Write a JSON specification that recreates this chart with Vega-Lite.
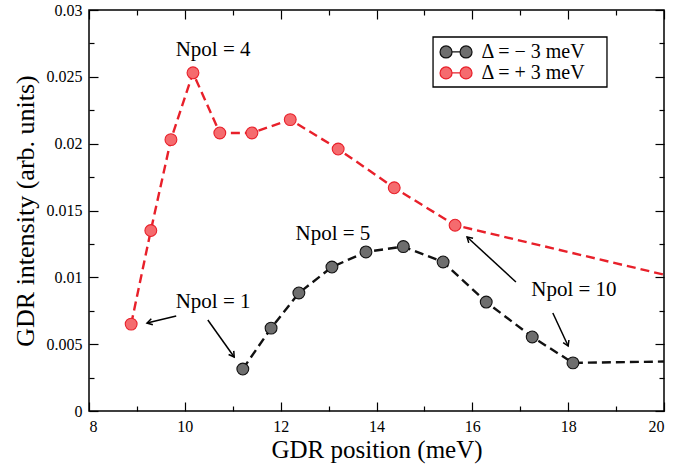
{
  "$schema": "https://vega.github.io/schema/vega-lite/v6.json",
  "width": 575,
  "height": 401,
  "autosize": "none",
  "padding": {"left": 89, "top": 10, "right": 29, "bottom": 53},
  "background": "#ffffff",
  "datasets": {
    "curves": [
      {"series": "Δ = − 3 meV", "x": 11.21, "y": 0.00314},
      {"series": "Δ = − 3 meV", "x": 11.80, "y": 0.0062},
      {"series": "Δ = − 3 meV", "x": 12.38, "y": 0.00883},
      {"series": "Δ = − 3 meV", "x": 13.07, "y": 0.01077},
      {"series": "Δ = − 3 meV", "x": 13.78, "y": 0.0119},
      {"series": "Δ = − 3 meV", "x": 14.56, "y": 0.0123},
      {"series": "Δ = − 3 meV", "x": 15.39, "y": 0.01115},
      {"series": "Δ = − 3 meV", "x": 16.29, "y": 0.00815},
      {"series": "Δ = − 3 meV", "x": 17.25, "y": 0.00554},
      {"series": "Δ = − 3 meV", "x": 18.10, "y": 0.0036},
      {"series": "Δ = − 3 meV", "x": 20.0, "y": 0.0037},
      {"series": "Δ = + 3 meV", "x": 8.88, "y": 0.0065},
      {"series": "Δ = + 3 meV", "x": 9.29, "y": 0.0135},
      {"series": "Δ = + 3 meV", "x": 9.71, "y": 0.0203},
      {"series": "Δ = + 3 meV", "x": 10.17, "y": 0.0253},
      {"series": "Δ = + 3 meV", "x": 10.73, "y": 0.0208},
      {"series": "Δ = + 3 meV", "x": 11.40, "y": 0.0208},
      {"series": "Δ = + 3 meV", "x": 12.20, "y": 0.0218},
      {"series": "Δ = + 3 meV", "x": 13.20, "y": 0.0196},
      {"series": "Δ = + 3 meV", "x": 14.37, "y": 0.0167},
      {"series": "Δ = + 3 meV", "x": 15.64, "y": 0.0139},
      {"series": "Δ = + 3 meV", "x": 20.0, "y": 0.0102}
    ],
    "arrows": [
      {"x": 9.82, "y": 0.00711, "x2": 9.21, "y2": 0.00658, "angle": 166},
      {"x": 10.48, "y": 0.00681, "x2": 11.03, "y2": 0.00404, "angle": 55},
      {"x": 16.91, "y": 0.00965, "x2": 15.89, "y2": 0.01302, "angle": 223},
      {"x": 17.68, "y": 0.00733, "x2": 18.0, "y2": 0.00486, "angle": 66}
    ],
    "labels": [
      {"x": 10.59, "y": 0.027, "label": "Npol = 4"},
      {"x": 10.59, "y": 0.00815, "label": "Npol = 1"},
      {"x": 13.09, "y": 0.01324, "label": "Npol = 5"},
      {"x": 18.12, "y": 0.00905, "label": "Npol = 10"}
    ],
    "legendMinus": [{"series": "Δ = − 3 meV"}],
    "legendPlus": [{"series": "Δ = + 3 meV"}]
  },
  "layer": [
    {
      "data": {"name": "curves"},
      "mark": {"type": "line", "strokeDash": [9, 5], "strokeWidth": 2.4, "clip": true},
      "encoding": {
        "x": {"field": "x", "type": "quantitative", "scale": {"domain": [8, 20], "nice": false, "zero": false},
          "axis": {"orient": "bottom", "values": [8, 10, 12, 14, 16, 18, 20], "ticks": false, "labelPadding": 7, "title": "GDR position (meV)", "titleY": 46, "titleFontSize": 25, "titleBaseline": "alphabetic"}},
        "y": {"field": "y", "type": "quantitative", "scale": {"domain": [0, 0.03], "nice": false},
          "axis": {"orient": "left", "values": [0, 0.005, 0.01, 0.015, 0.02, 0.025, 0.03], "format": "~g", "ticks": false, "labelPadding": 7, "title": "GDR intensity (arb. units)", "titlePadding": 8}},
        "stroke": {"field": "series", "type": "nominal", "scale": {"domain": ["Δ = − 3 meV", "Δ = + 3 meV"], "range": ["#111111", "#e8202a"]}, "legend": null},
        "order": {"field": "x", "type": "quantitative"}
      }
    },
    {
      "data": {"name": "curves"},
      "transform": [{"filter": "datum.x < 20"}],
      "mark": {"type": "point", "filled": true, "size": 140, "strokeWidth": 1.1, "opacity": 1},
      "encoding": {
        "x": {"field": "x", "type": "quantitative",
          "axis": {"orient": "bottom", "values": [8, 10, 12, 14, 16, 18, 20], "labels": false, "tickSize": -9, "title": null}},
        "y": {"field": "y", "type": "quantitative",
          "axis": {"orient": "left", "values": [0, 0.005, 0.01, 0.015, 0.02, 0.025, 0.03], "labels": false, "tickSize": -9, "title": null}},
        "fill": {"field": "series", "type": "nominal", "scale": {"domain": ["Δ = − 3 meV", "Δ = + 3 meV"], "range": ["#6e6e6e", "#f56b6e"]}, "legend": null},
        "stroke": {"field": "series", "type": "nominal", "legend": null}
      }
    },
    {
      "data": {"name": "arrows"},
      "mark": {"type": "rule", "color": "#000000", "strokeWidth": 1.5},
      "encoding": {
        "x": {"field": "x", "type": "quantitative",
          "axis": {"orient": "bottom", "values": [9, 11, 13, 15, 17, 19], "labels": false, "tickSize": -5, "title": null}},
        "y": {"field": "y", "type": "quantitative",
          "axis": {"orient": "left", "values": [0.0025, 0.0075, 0.0125, 0.0175, 0.0225, 0.0275], "labels": false, "tickSize": -5, "title": null}},
        "x2": {"field": "x2"},
        "y2": {"field": "y2"}
      }
    },
    {
      "data": {"name": "arrows"},
      "mark": {"type": "point", "shape": "M-1,-0.6L0,0L-1,0.6", "filled": false, "size": 110, "stroke": "#000000", "strokeWidth": 1.5, "opacity": 1},
      "encoding": {
        "x": {"field": "x2", "type": "quantitative",
          "axis": {"orient": "top", "values": [8, 10, 12, 14, 16, 18, 20], "labels": false, "tickSize": -9, "title": null}},
        "y": {"field": "y2", "type": "quantitative",
          "axis": {"orient": "right", "values": [0, 0.005, 0.01, 0.015, 0.02, 0.025, 0.03], "labels": false, "tickSize": -9, "title": null}},
        "angle": {"field": "angle", "type": "quantitative", "scale": null}
      }
    },
    {
      "data": {"name": "labels"},
      "mark": {"type": "text", "font": "Liberation Serif", "fontSize": 21, "color": "#000000", "align": "center", "baseline": "middle"},
      "encoding": {
        "x": {"field": "x", "type": "quantitative",
          "axis": {"orient": "top", "values": [9, 11, 13, 15, 17, 19], "labels": false, "tickSize": -5, "title": null}},
        "y": {"field": "y", "type": "quantitative",
          "axis": {"orient": "right", "values": [0.0025, 0.0075, 0.0125, 0.0175, 0.0225, 0.0275], "labels": false, "tickSize": -5, "title": null}},
        "text": {"field": "label", "type": "nominal"}
      }
    },
    {
      "data": {"name": "legendMinus"},
      "mark": {"type": "rect", "fill": "#ffffff", "stroke": "#000000", "strokeWidth": 1.3},
      "encoding": {
        "x": {"datum": 15.18, "type": "quantitative", "axis": null},
        "x2": {"datum": 18.81},
        "y": {"datum": 0.02798, "type": "quantitative", "axis": null},
        "y2": {"datum": 0.02424}
      }
    },
    {
      "data": {"name": "legendMinus"},
      "layer": [
        {
          "mark": {"type": "point", "shape": "M-1,0C-1,-0.2071,-0.8321,-0.375,-0.625,-0.375C-0.4179,-0.375,-0.25,-0.2071,-0.25,0C-0.25,0.2071,-0.4179,0.375,-0.625,0.375C-0.8321,0.375,-1,0.2071,-1,0ZM0.25,0C0.25,-0.2071,0.4179,-0.375,0.625,-0.375C0.8321,-0.375,1,-0.2071,1,0C1,0.2071,0.8321,0.375,0.625,0.375C0.4179,0.375,0.25,0.2071,0.25,0ZM-0.25,0L0.25,0",
            "size": 1024, "filled": true, "fill": "#6e6e6e", "stroke": "#111111", "strokeWidth": 1.2, "opacity": 1},
          "encoding": {
            "x": {"datum": 15.66, "type": "quantitative", "axis": null},
            "y": {"datum": 0.02686, "type": "quantitative", "axis": null}
          }
        },
        {
          "mark": {"type": "text", "font": "Liberation Serif", "fontSize": 20, "color": "#000000", "align": "left", "baseline": "middle"},
          "encoding": {
            "x": {"datum": 16.19, "type": "quantitative", "axis": null},
            "y": {"datum": 0.02686, "type": "quantitative", "axis": null},
            "text": {"field": "series", "type": "nominal"}
          }
        }
      ]
    },
    {
      "data": {"name": "legendPlus"},
      "layer": [
        {
          "mark": {"type": "point", "shape": "M-1,0C-1,-0.2071,-0.8321,-0.375,-0.625,-0.375C-0.4179,-0.375,-0.25,-0.2071,-0.25,0C-0.25,0.2071,-0.4179,0.375,-0.625,0.375C-0.8321,0.375,-1,0.2071,-1,0ZM0.25,0C0.25,-0.2071,0.4179,-0.375,0.625,-0.375C0.8321,-0.375,1,-0.2071,1,0C1,0.2071,0.8321,0.375,0.625,0.375C0.4179,0.375,0.25,0.2071,0.25,0ZM-0.25,0L0.25,0",
            "size": 1024, "filled": true, "fill": "#f56b6e", "stroke": "#e8202a", "strokeWidth": 1.2, "opacity": 1},
          "encoding": {
            "x": {"datum": 15.66, "type": "quantitative", "axis": null},
            "y": {"datum": 0.02529, "type": "quantitative", "axis": null}
          }
        },
        {
          "mark": {"type": "text", "font": "Liberation Serif", "fontSize": 20, "color": "#000000", "align": "left", "baseline": "middle"},
          "encoding": {
            "x": {"datum": 16.19, "type": "quantitative", "axis": null},
            "y": {"datum": 0.02529, "type": "quantitative", "axis": null},
            "text": {"field": "series", "type": "nominal"}
          }
        }
      ]
    }
  ],
  "resolve": {"axis": {"x": "independent", "y": "independent"}},
  "config": {
    "font": "Liberation Serif",
    "view": {"stroke": "#000000", "strokeWidth": 1.5},
    "axis": {
      "grid": false,
      "domain": false,
      "labelFont": "Liberation Serif",
      "titleFont": "Liberation Serif",
      "labelColor": "#000000",
      "titleColor": "#000000",
      "tickColor": "#000000",
      "tickWidth": 1.2,
      "labelFontSize": 16,
      "titleFontSize": 26,
      "titleFontWeight": "normal"
    }
  }
}
